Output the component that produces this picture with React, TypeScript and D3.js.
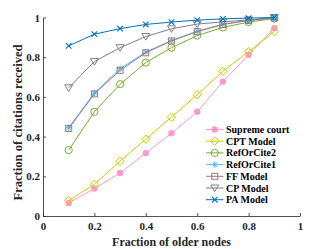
import { useEffect, useRef } from 'react';
import * as d3 from 'd3';

const xs = [0.1, 0.2, 0.3, 0.4, 0.5, 0.6, 0.7, 0.8, 0.9];
const supremeCourt = [0.066, 0.138, 0.217, 0.317, 0.417, 0.525, 0.677, 0.812, 0.946];
const cptModel = [0.078, 0.16, 0.276, 0.387, 0.498, 0.611, 0.729, 0.828, 0.929];
const refOrCite2 = [0.332, 0.525, 0.664, 0.773, 0.848, 0.909, 0.95, 0.977, 0.995];
const refOrCite1 = [0.445, 0.62, 0.742, 0.826, 0.884, 0.931, 0.966, 0.986, 0.998];
const ffModel = [0.441, 0.615, 0.734, 0.822, 0.882, 0.929, 0.965, 0.985, 0.998];
const cpModel = [0.646, 0.778, 0.848, 0.904, 0.943, 0.967, 0.978, 0.988, 1.0];
const paModel = [0.857, 0.916, 0.944, 0.965, 0.977, 0.987, 0.993, 0.997, 1.0];
const ticks = [0, 0.2, 0.4, 0.6, 0.8, 1];

const series = [
  { name: 'Supreme court', values: supremeCourt, color: '#ff99cc', marker: 'dot' },
  { name: 'CPT Model', values: cptModel, color: '#cccc00', marker: 'diamond' },
  { name: 'RefOrCite2', values: refOrCite2, color: '#77ac30', marker: 'circle' },
  { name: 'RefOrCite1', values: refOrCite1, color: '#4dbeee', marker: 'star' },
  { name: 'FF Model', values: ffModel, color: '#a2787a', marker: 'square' },
  { name: 'CP Model', values: cpModel, color: '#808080', marker: 'triangle' },
  { name: 'PA Model', values: paModel, color: '#0072bd', marker: 'cross' },
];

function drawMarker(g: any, kind: string, cx: number, cy: number, color: string) {
  if (kind === 'dot') {
    g.append('circle').attr('cx', cx).attr('cy', cy).attr('r', 3.2).attr('fill', color);
  } else if (kind === 'circle') {
    g.append('circle').attr('cx', cx).attr('cy', cy).attr('r', 3.6)
      .attr('fill', 'none').attr('stroke', color).attr('stroke-width', 1);
  } else if (kind === 'diamond') {
    const s = 4.2;
    g.append('path').attr('d', `M${cx},${cy - s}L${cx + s},${cy}L${cx},${cy + s}L${cx - s},${cy}Z`)
      .attr('fill', 'none').attr('stroke', color).attr('stroke-width', 1);
  } else if (kind === 'square') {
    const s = 3;
    g.append('rect').attr('x', cx - s).attr('y', cy - s).attr('width', 2 * s).attr('height', 2 * s)
      .attr('fill', 'none').attr('stroke', color).attr('stroke-width', 1);
  } else if (kind === 'triangle') {
    const s = 4;
    g.append('path').attr('d', `M${cx - s},${cy - s * 0.75}L${cx + s},${cy - s * 0.75}L${cx},${cy + s * 0.9}Z`)
      .attr('fill', 'none').attr('stroke', color).attr('stroke-width', 1);
  } else if (kind === 'star') {
    const s = 3.2;
    g.append('path')
      .attr('d', `M${cx - s},${cy}L${cx + s},${cy}M${cx},${cy - s}L${cx},${cy + s}M${cx - s * 0.7},${cy - s * 0.7}L${cx + s * 0.7},${cy + s * 0.7}M${cx - s * 0.7},${cy + s * 0.7}L${cx + s * 0.7},${cy - s * 0.7}`)
      .attr('stroke', color).attr('stroke-width', 1);
  } else if (kind === 'cross') {
    const s = 2.8;
    g.append('path')
      .attr('d', `M${cx - s},${cy - s}L${cx + s},${cy + s}M${cx - s},${cy + s}L${cx + s},${cy - s}`)
      .attr('stroke', color).attr('stroke-width', 1.1);
  }
}

export default function App() {
  const ref = useRef<SVGSVGElement | null>(null);

  useEffect(() => {
    if (!ref.current) return;
    const svg = d3.select(ref.current);
    svg.selectAll('*').remove();

    const width = 332;
    const height = 249;
    const margin = { top: 17.5, right: 32, bottom: 33, left: 43 };
    const innerWidth = width - margin.left - margin.right;
    const innerHeight = height - margin.top - margin.bottom;
    const font = "'Liberation Serif', 'Times New Roman', serif";

    svg.attr('width', width).attr('height', height);

    const x = d3.scaleLinear().domain([0, 1]).range([0, innerWidth]);
    const y = d3.scaleLinear().domain([0, 1]).range([innerHeight, 0]);

    const g = svg.append('g').attr('transform', `translate(${margin.left},${margin.top})`);

    const xAxis = g.append('g')
      .attr('transform', `translate(0,${innerHeight})`)
      .call(d3.axisBottom(x).tickValues(ticks).tickSizeInner(-3).tickSizeOuter(0).tickPadding(6)
        .tickFormat(d => `${d}`));
    const yAxis = g.append('g')
      .call(d3.axisLeft(y).tickValues(ticks).tickSizeInner(-3).tickSizeOuter(0).tickPadding(3)
        .tickFormat(d => `${d}`));

    [xAxis, yAxis].forEach(a => {
      a.select('.domain').attr('stroke', '#262626').attr('stroke-width', 0.8);
      a.selectAll('.tick line').attr('stroke', '#262626').attr('stroke-width', 0.8);
      a.selectAll('.tick text')
        .attr('font-family', font).attr('font-weight', 'bold').attr('font-size', 11).attr('fill', '#262626');
    });

    const line = d3.line<number>()
      .x((_, i) => x(xs[i]))
      .y(d => y(d));

    series.forEach(s => {
      g.append('path')
        .attr('d', line(s.values))
        .attr('fill', 'none')
        .attr('stroke', s.color)
        .attr('stroke-width', 1);
      const mg = g.append('g');
      s.values.forEach((v, i) => drawMarker(mg, s.marker, x(xs[i]), y(v), s.color));
    });

    // legend
    const legend = svg.append('g').attr('transform', 'translate(206,129.5)');
    series.forEach((s, i) => {
      const row = legend.append('g').attr('transform', `translate(0,${i * 11.7})`);
      row.append('line').attr('x1', 0).attr('x2', 17.5).attr('y1', 0).attr('y2', 0)
        .attr('stroke', s.color).attr('stroke-width', 1);
      drawMarker(row, s.marker, 8.75, 0, s.color);
      row.append('text')
        .attr('x', 20)
        .attr('y', 0)
        .attr('dy', '0.35em')
        .attr('font-family', font)
        .attr('font-weight', 'bold')
        .attr('font-size', 10)
        .attr('fill', '#000')
        .text(s.name);
    });

    svg.append('text')
      .attr('x', margin.left + innerWidth / 2)
      .attr('y', 245.5)
      .attr('text-anchor', 'middle')
      .attr('font-family', font)
      .attr('font-weight', 'bold')
      .attr('font-size', 12)
      .attr('fill', '#262626')
      .text('Fraction of older nodes');

    svg.append('text')
      .attr('transform', `translate(22,${122.5}) rotate(-90)`)
      .attr('text-anchor', 'middle')
      .attr('font-family', font)
      .attr('font-weight', 'bold')
      .attr('font-size', 12.6)
      .attr('fill', '#262626')
      .text('Fraction of citations received');
  }, []);

  return (
    <div style={{ position: 'absolute', left: 0, top: 0 }}>
      <svg ref={ref}></svg>
    </div>
  );
}
